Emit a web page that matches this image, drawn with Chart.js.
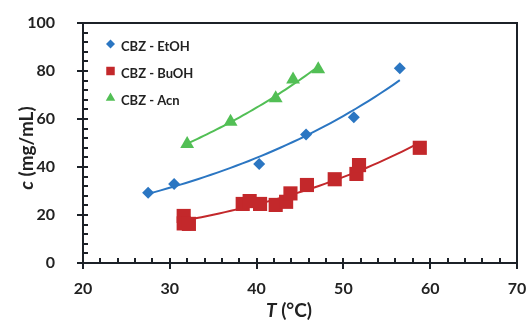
<!DOCTYPE html>
<html lang="en">
  <head>
    <meta charset="UTF-8" />
    <title>CBZ solubility</title>
    <script src="https://cdn.jsdelivr.net/npm/chart.js"></script>
    <style>
      html, body { margin: 0; padding: 0; background: #fff; }
      #wrap { position: relative; width: 529px; height: 323px; }
    </style>
  </head>
  <body>
    <div id="wrap"><canvas id="myChart"></canvas></div>
    <script>
      // measured solubility, T in °C, c in mg/mL
      var etohT = [27.5, 30.5, 40.3, 45.7, 51.2, 56.5];
      var etohC = [29.3, 32.9, 41.3, 53.5, 60.7, 81.1];
      var buohT = [31.6, 31.6, 32.2, 38.4, 39.2, 40.4, 42.2, 43.4, 43.9, 45.8, 49.0, 51.5, 51.8, 58.8];
      var buohC = [19.6, 16.5, 16.3, 24.6, 25.8, 24.6, 24.2, 25.5, 29.0, 32.5, 34.9, 37.1, 40.8, 48.0];
      var acnT = [32.0, 37.0, 42.2, 44.2, 47.1];
      var acnC = [49.6, 58.9, 68.6, 76.5, 80.7];

      var seriesNames = ["CBZ - EtOH", "CBZ - BuOH", "CBZ - Acn"];
      var xTicks = [20, 30, 40, 50, 60, 70];
      var yTicks = [0, 20, 40, 60, 80, 100];

      var blue = "#2b76c2";
      var red = "#c3282b";
      var green = "#52bf55";
      var ink = "#222222";
      var lineInk = "#1c2128";
      var fontName = "Lato";

      function points(ts, cs) {
        return ts.map((t, i) => ({ x: t, y: cs[i] }));
      }

      // exponential trendline c = a*exp(b*T), least squares on ln(c)
      function expTrend(ts, cs) {
        var n = ts.length;
        var lc = cs.map((c) => Math.log(c));
        var mt = ts.reduce((s, v) => s + v, 0) / n;
        var ml = lc.reduce((s, v) => s + v, 0) / n;
        var sxy = 0, sxx = 0;
        for (var i = 0; i < n; i++) {
          sxy += (ts[i] - mt) * (lc[i] - ml);
          sxx += (ts[i] - mt) * (ts[i] - mt);
        }
        var b = sxy / sxx;
        var a = Math.exp(ml - b * mt);
        var lo = Math.min.apply(null, ts), hi = Math.max.apply(null, ts);
        var out = [];
        for (var k = 0; k <= 40; k++) {
          var t = lo + ((hi - lo) * k) / 40;
          out.push({ x: t, y: a * Math.exp(b * t) });
        }
        return out;
      }

      function markerSet(label, data, color, style, r) {
        return {
          label: label,
          data: data,
          pointStyle: style,
          pointRadius: r,
          pointHoverRadius: r,
          backgroundColor: color,
          borderColor: color,
          borderWidth: 0,
          order: 0,
        };
      }

      function lineSet(data, color) {
        return {
          label: "",
          data: data,
          showLine: true,
          pointRadius: 0,
          borderColor: color,
          borderWidth: 2,
          order: 1,
        };
      }

      var datasets = [
        markerSet(seriesNames[0], points(etohT, etohC), blue, "rectRot", 6),
        markerSet(seriesNames[1], points(buohT, buohC), red, "rect", 10),
        markerSet(seriesNames[2], points(acnT, acnC), green, "triangle", 8),
        lineSet(expTrend(etohT, etohC), blue),
        lineSet(expTrend(buohT, buohC), red),
        lineSet(expTrend(acnT, acnC), green),
      ];

      // box round the plot, plus tick marks (major cross the axis, minor inside)
      var boxTicks = {
        id: "boxTicks",
        afterDraw(chart) {
          var c = chart.ctx;
          var a = chart.chartArea;
          var sx = chart.scales.x;
          var sy = chart.scales.y;
          c.save();
          c.fillStyle = lineInk;
          c.fillRect(a.left - 1, a.top - 1, a.right - a.left + 2, 2);
          c.fillRect(a.left - 1, a.bottom - 1, a.right - a.left + 2, 2);
          c.fillRect(a.left - 1, a.top - 1, 2, a.bottom - a.top + 2);
          c.fillRect(a.right - 1, a.top - 1, 2, a.bottom - a.top + 2);
          for (var v = 20; v <= 70; v += 2) {
            var px = Math.round(sx.getPixelForValue(v));
            var major = v % 10 === 0;
            c.fillRect(px - 1, a.bottom - 5, 2, major ? 11 : 5);
          }
          for (var u = 0; u <= 100; u += 4) {
            var py = Math.round(sy.getPixelForValue(u));
            var maj = u % 20 === 0;
            c.fillRect(a.left - (maj ? 6 : 0), py - 1, maj ? 11 : 5, 2);
          }
          c.restore();
        },
      };

      // axis titles with the italic symbol, and the legend
      var textPlugin = {
        id: "textPlugin",
        afterDraw(chart) {
          var c = chart.ctx;
          c.save();
          c.fillStyle = ink;
          c.textBaseline = "middle";
          c.textAlign = "left";
          var drawTitle = function (sym, rest, cx, cy, rot) {
            c.save();
            c.translate(cx, cy);
            c.rotate(rot);
            c.font = "italic bold 19px " + fontName;
            var w1 = c.measureText(sym).width;
            c.font = "bold 19px " + fontName;
            var w2 = c.measureText(rest).width;
            var x0 = -(w1 + w2) / 2;
            c.font = "italic bold 19px " + fontName;
            c.fillText(sym, x0, 0);
            c.font = "bold 19px " + fontName;
            c.fillText(rest, x0 + w1, 0);
            c.restore();
          };
          drawTitle("c", " (mg/mL)", 27, 148, -Math.PI / 2);
          drawTitle("T", " (°C)", 289, 311, 0);

          c.font = "bold 13px " + fontName;
          c.textBaseline = "alphabetic";
          var marks = [["rectRot", 4.5], ["rect", 6], ["triangle", 5.5]];
          for (var i = 0; i < 3; i++) {
            var ds = chart.data.datasets[i];
            var ly = 44 + i * 27;
            c.fillStyle = ds.backgroundColor;
            Chart.helpers.drawPoint(c, { pointStyle: marks[i][0], radius: marks[i][1], borderWidth: 0 }, 110.5, ly);
            c.fillStyle = ink;
            c.fillText(ds.label, 121, ly + 7);
          }
          c.restore();
        },
      };

      var tickFont = { family: fontName, size: 16, weight: "bold" };

      var ctx = document.getElementById("myChart");
      new Chart(ctx, {
        type: "scatter",
        data: { datasets: datasets },
        options: {
          responsive: true,
          maintainAspectRatio: false,
          animation: false,
          layout: { padding: { left: 0, right: 12, top: 23, bottom: 0 } },
          plugins: {
            legend: { display: false },
            tooltip: { enabled: false },
          },
          scales: {
            x: {
              type: "linear",
              min: 20,
              max: 70,
              afterFit: (s) => {
                s.height = 60;
                s.paddingLeft = 0;
                s.paddingRight = 0;
              },
              afterBuildTicks: (s) => { s.ticks = xTicks.map((v) => ({ value: v })); },
              grid: { display: false },
              border: { display: false },
              ticks: { padding: 8, color: ink, font: tickFont },
            },
            y: {
              type: "linear",
              min: 0,
              max: 100,
              afterFit: (s) => {
                s.width = 83;
                s.paddingTop = 0;
                s.paddingBottom = 0;
              },
              afterBuildTicks: (s) => { s.ticks = yTicks.map((v) => ({ value: v })); },
              grid: { display: false },
              border: { display: false },
              ticks: { padding: 20, color: ink, font: tickFont },
            },
          },
        },
        plugins: [boxTicks, textPlugin],
      });
    </script>
  </body>
</html>
